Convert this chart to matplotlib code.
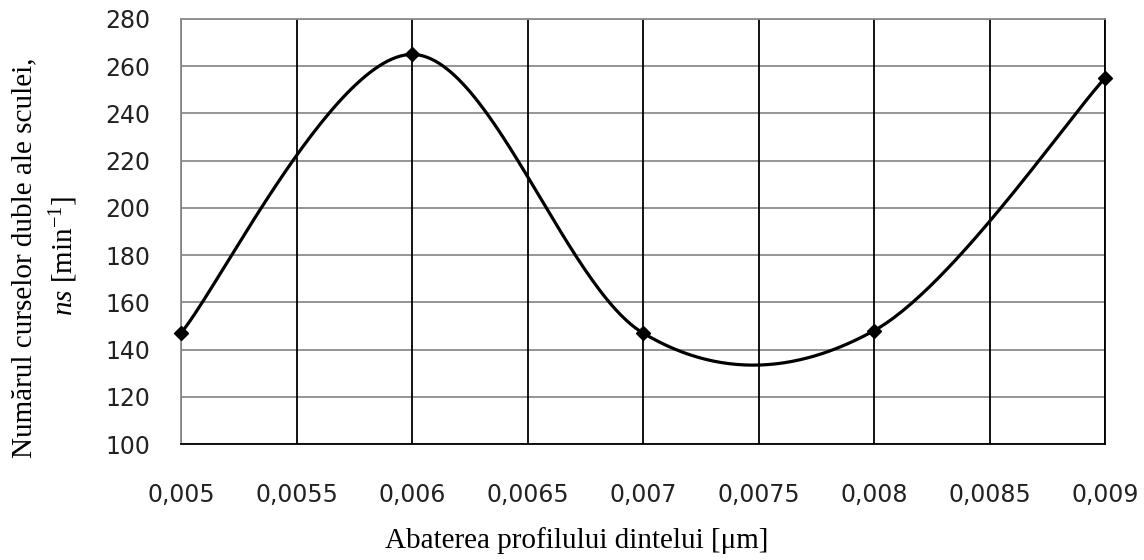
import numpy as np
import matplotlib
matplotlib.use("Agg")
import matplotlib.pyplot as plt

serif = "Liberation Serif"
plt.rcParams["font.family"] = ["DejaVu Sans"]
plt.rcParams["mathtext.fontset"] = "custom"
plt.rcParams["mathtext.rm"] = serif
plt.rcParams["mathtext.it"] = serif + ":italic"

# Data
x_vals = [0.005, 0.006, 0.007, 0.008, 0.009]
y_vals = [147, 265, 147, 148, 255]
x_ticks = [0.005, 0.0055, 0.006, 0.0065, 0.007, 0.0075, 0.008, 0.0085, 0.009]
x_tick_labels = ["0,005", "0,0055", "0,006", "0,0065", "0,007", "0,0075", "0,008", "0,0085", "0,009"]
y_ticks = [100, 120, 140, 160, 180, 200, 220, 240, 260, 280]
y_tick_labels = [str(v) for v in y_ticks]


def smooth(xs, ys, n=60):
    """Catmull-Rom (Excel-like smoothed line) through given points."""
    xs = np.asarray(xs, float)
    ys = np.asarray(ys, float)
    px = np.concatenate([[xs[0]], xs, [xs[-1]]])
    py = np.concatenate([[ys[0]], ys, [ys[-1]]])
    outx, outy = [], []
    for i in range(1, len(px) - 2):
        p0, p1, p2, p3 = (np.array([px[j], py[j]]) for j in (i - 1, i, i + 1, i + 2))
        c1 = p1 + (p2 - p0) / 6.0
        c2 = p2 - (p3 - p1) / 6.0
        t = np.linspace(0, 1, n)[:, None]
        b = ((1 - t) ** 3) * p1 + 3 * ((1 - t) ** 2) * t * c1 + 3 * (1 - t) * t ** 2 * c2 + t ** 3 * p2
        outx.extend(b[:, 0]); outy.extend(b[:, 1])
    return np.array(outx), np.array(outy)


fig = plt.figure(figsize=(11.44, 5.6), dpi=100)
ax = fig.add_axes([181 / 1144, 1 - 444 / 560, (1105 - 181) / 1144, (444 - 19) / 560])

ax.set_xlim(0.005, 0.009)
ax.set_ylim(100, 280)

for xt in x_ticks:
    ax.axvline(xt, color="black", lw=1.3, zorder=1)
for yt in y_ticks:
    ax.axhline(yt, color="#8c8c8c", lw=1.3, zorder=0.5)

sx, sy = smooth(x_vals, y_vals)
ax.plot(sx, sy, color="black", lw=2.3, zorder=3, solid_capstyle="round")
ax.plot(x_vals, y_vals, linestyle="none", marker="D", markersize=7, color="black", zorder=4, clip_on=False)

ax.set_xticks(x_ticks)
ax.set_xticklabels(x_tick_labels, fontfamily="DejaVu Sans", fontsize=17, color="#222222")
ax.set_yticks(y_ticks)
ax.set_yticklabels(y_tick_labels, fontfamily="DejaVu Sans", fontsize=17, color="#222222")
ax.tick_params(axis="both", length=0)
ax.tick_params(axis="x", pad=28)
ax.tick_params(axis="y", pad=22)

ax.spines["left"].set_color("#8c8c8c")
ax.spines["top"].set_color("#8c8c8c")
ax.spines["bottom"].set_color("black")
ax.spines["right"].set_color("black")
for s in ax.spines.values():
    s.set_linewidth(1.3)

fig.text(577 / 1144, 1 - 541 / 560, "Abaterea profilului dintelui [\u03bcm]", ha="center", va="center",
         fontsize=21, family=serif)
fig.text(24 / 1144, 1 - 258 / 560, "Numărul curselor duble ale sculei,", rotation=90, ha="center", va="center",
         fontsize=21, family=serif)
fig.text(64 / 1144, 1 - 256 / 560, r"$\mathit{ns}$ [min$^{\mathrm{-1}}$]", rotation=90, ha="center", va="center",
         fontsize=21, family=serif)

fig.savefig("out.png", dpi=100)
